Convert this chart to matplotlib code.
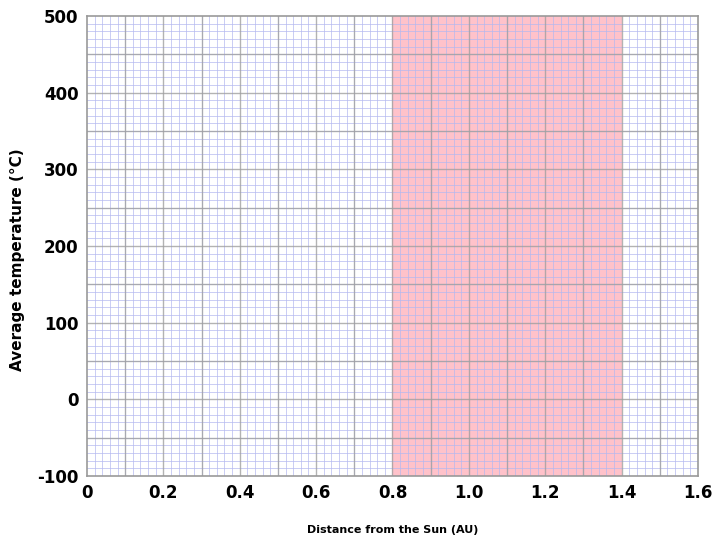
import numpy as np
import matplotlib.pyplot as plt
from matplotlib.ticker import MultipleLocator, FixedLocator

plt.rcParams["axes.unicode_minus"] = False

# Axis ranges and labels
x_range = [0, 1.6]
y_range = [-100, 500]
x_ticks = [0, 0.2, 0.4, 0.6, 0.8, 1.0, 1.2, 1.4, 1.6]
x_ticklabels = ["0", "0.2", "0.4", "0.6", "0.8", "1.0", "1.2", "1.4", "1.6"]
y_ticks = [-100, 0, 100, 200, 300, 400, 500]

# Highlighted band (AU)
band = [0.8, 1.4]

fig = plt.figure(figsize=(7.14, 5.42), dpi=100)
ax = fig.add_axes([0.1218, 0.1218, 0.8558, 0.8487])

ax.set_xlim(x_range)
ax.set_ylim(y_range)

# Shaded region
ax.axvspan(band[0], band[1], color="#ffb3bd", alpha=0.8, zorder=0, lw=0)

# Fine grid (blue) and coarse grid (gray)
ax.xaxis.set_minor_locator(MultipleLocator(0.02))
ax.yaxis.set_minor_locator(MultipleLocator(10))
ax.grid(which="minor", color="#b4b8f0", linewidth=0.7, alpha=0.7, zorder=1)
for xv in np.arange(0.1, 1.6, 0.1):
    ax.axvline(xv, color="#a0a0a0", linewidth=1.0, alpha=0.8, zorder=2)
for yv in np.arange(-50, 500, 50):
    ax.axhline(yv, color="#a0a0a0", linewidth=1.0, alpha=0.8, zorder=2)
ax.set_axisbelow(True)

ax.xaxis.set_major_locator(FixedLocator(x_ticks))
ax.set_xticklabels(x_ticklabels)
ax.yaxis.set_major_locator(FixedLocator(y_ticks))
ax.tick_params(which="both", length=0)
ax.tick_params(axis="x", pad=6)
ax.tick_params(axis="y", pad=6)
for lbl in ax.get_xticklabels() + ax.get_yticklabels():
    lbl.set_fontsize(12)
    lbl.set_fontweight("bold")

for sp in ax.spines.values():
    sp.set_color("#999999")
    sp.set_linewidth(1.2)

fig.text(0.5497, 0.022, "Distance from the Sun (AU)", fontsize=8, fontweight="bold",
         ha="center", va="center")
fig.text(0.024, 0.52, "Average temperature (°C)", fontsize=11, fontweight="bold",
         ha="center", va="center", rotation=90)

plt.savefig("out.png")
